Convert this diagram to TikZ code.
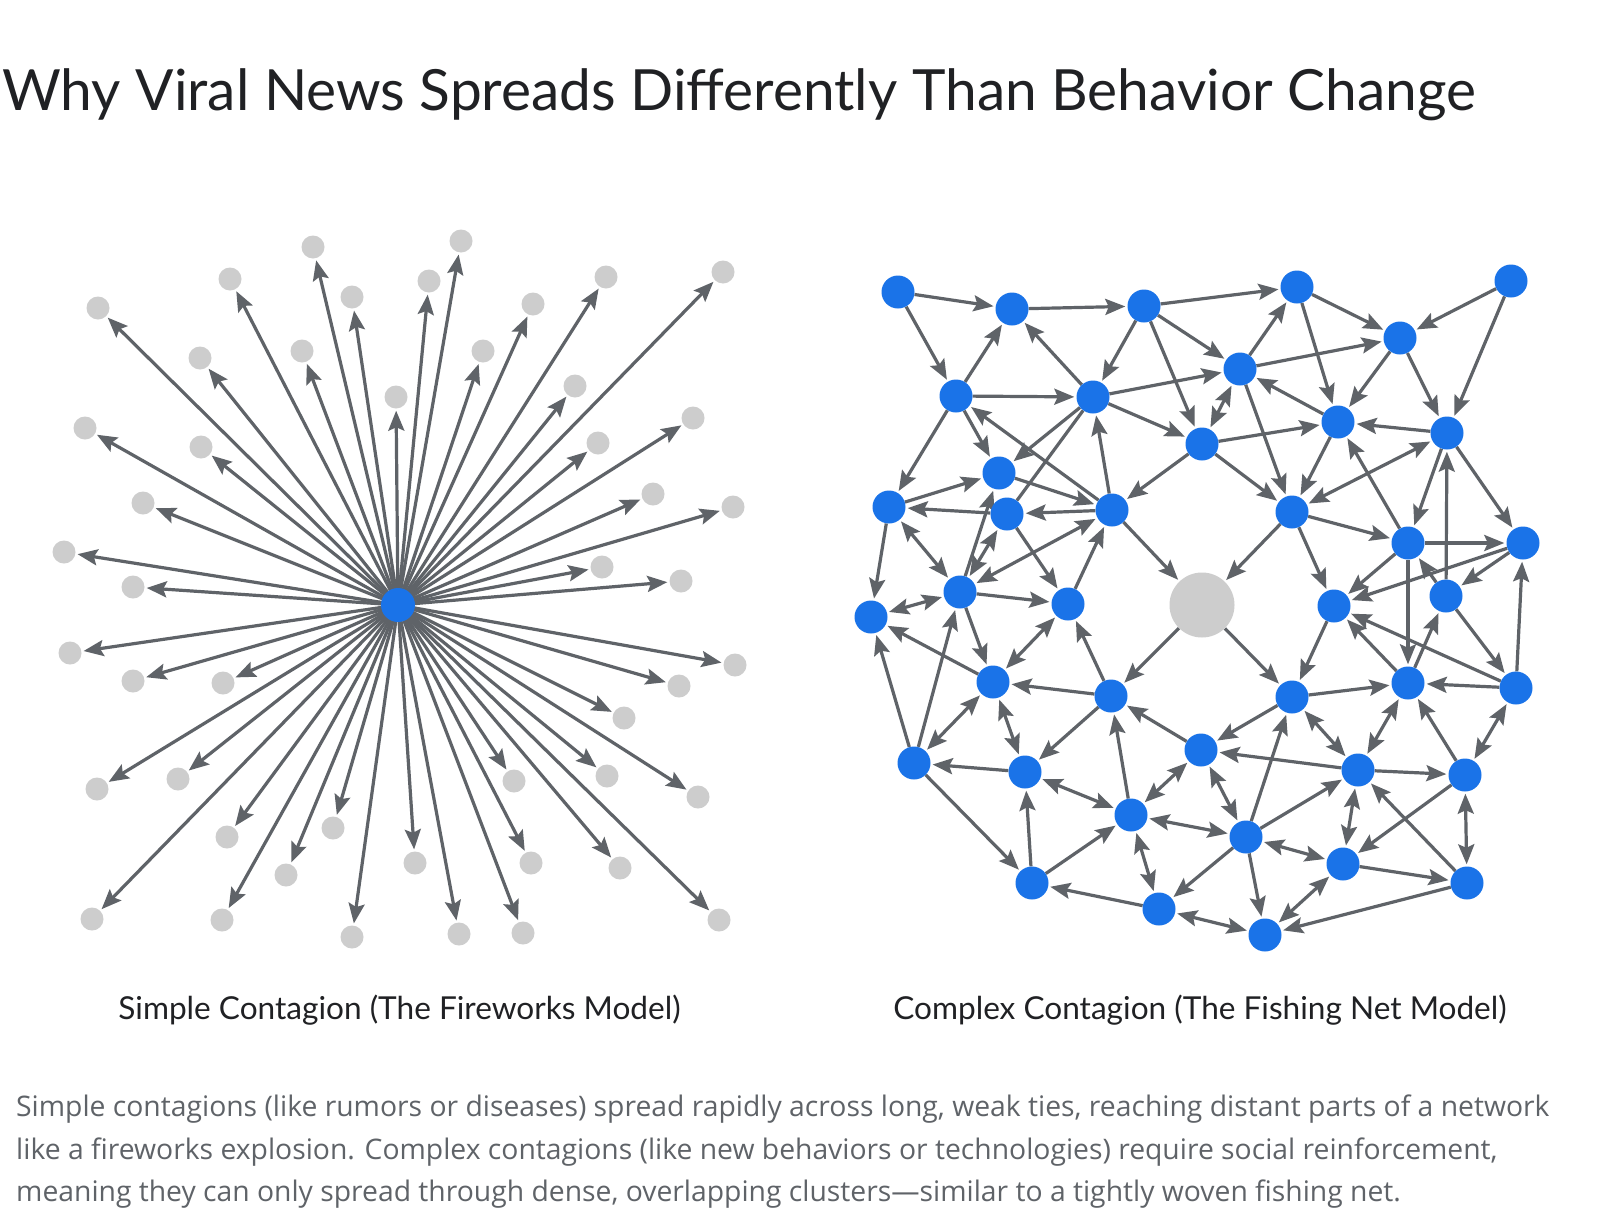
\documentclass[tikz,border=0pt]{standalone}
\usepackage{fontspec}
\setmainfont{Lato}
\newfontfamily\capfont{Open Sans}
\usetikzlibrary{arrows.meta}
\definecolor{nodeblue}{HTML}{1A73E8}
\definecolor{nodegray}{HTML}{CDCDCD}
\definecolor{arrowgray}{HTML}{5F6368}
\definecolor{titlecol}{HTML}{202124}
\definecolor{capcol}{HTML}{5F6368}
\pgfdeclarelayer{back}
\pgfdeclarelayer{edges}
\pgfsetlayers{back,edges,main}
\tikzset{
  bnode/.style={circle, fill=nodeblue, inner sep=0pt, minimum size=33pt},
  cnode/.style={circle, fill=nodeblue, inner sep=0pt, minimum size=34pt},
  gnode/.style={circle, fill=nodegray, inner sep=0pt, minimum size=23pt},
  bignode/.style={circle, fill=nodegray, inner sep=0pt, minimum size=65pt},
  ahead/.tip={Stealth[length=20pt,width=16pt,inset=3.5pt]},
  conn/.style={line width=3.2pt, draw=arrowgray},
  arr/.style={conn, -ahead, shorten >=2pt},
  darr/.style={conn, ahead-ahead, shorten >=2pt, shorten <=2pt},
}
\begin{document}
\begin{tikzpicture}[x=1pt,y=-1pt]
\useasboundingbox (0,0) rectangle (1600,1226);
\begin{pgfonlayer}{back}
\fill[white] (0,0) rectangle (1600,1226);
\end{pgfonlayer}

% ---------- Title ----------
\node[anchor=base west, inner sep=0pt, text=titlecol, font=\fontsize{56.8}{61}\selectfont] (title) at (2,110) {Why Viral News Spreads Differently Than Behavior Change};

% ---------- Left: fireworks ----------
\node[cnode] (c) at (398,605) {};
\foreach \i/\x/\y in {
 1/313/247, 2/461/241, 3/230/279, 4/429/281, 5/98/308, 6/352/297,
 7/606/277, 8/723/272, 9/533/304, 10/200/358, 11/302/351, 12/483/351,
 13/396/397, 14/575/386, 15/85/428, 16/201/447, 17/598/443, 18/693/418,
 19/143/503, 20/653/494, 21/733/507, 22/64/552, 23/133/587, 24/602/567,
 25/681/581, 26/70/653, 27/133/681, 28/223/683, 29/735/665, 30/679/686,
 31/624/718, 32/97/789, 33/178/779, 34/514/781, 35/607/776, 36/698/797,
 37/227/837, 38/333/828, 39/415/863, 40/531/863, 41/620/868, 42/286/875,
 43/92/919, 44/222/920, 45/352/937, 46/459/934, 47/523/933, 48/719/920}
 { \node[gnode] (g\i) at (\x,\y) {}; }
\begin{pgfonlayer}{edges}
\foreach \i in {1,...,48} { \draw[arr] (c.center) -- (g\i); }
\end{pgfonlayer}

% ---------- Right: fishing net ----------
\node[bignode] (GC) at (1202,605) {};
\foreach \n/\x/\y in {
 A/898/292, B/1012/309, C/1144/306, O/1297/287, P/1511/281, Q/1400/338,
 E/956/396, F/1093/397, D/1240/369, R/1338/422, S/1447/433, G/1202/444,
 H/999/473, I/889/507, J/1007/514, K/1112/510, T/1292/512, U/1408/543,
 V/1523/543, L/960/592, M/1068/604, N/871/617, X/1334/606, W/1446/596,
 Y/993/682, Z/1111/696, AI/1292/697, AJ/1408/683, AK/1516/688,
 AA/914/763, AB/1025/772, AC/1201/750, AL/1358/770, AM/1465/775,
 AD/1131/815, AE/1246/837, AN/1343/864, AO/1467/883,
 AF/1032/883, AG/1159/909, AH/1265/935}
 { \node[bnode] (\n) at (\x,\y) {}; }

\begin{pgfonlayer}{edges}
\foreach \a/\b in {
 A/B, A/E, B/C, C/O, E/B, E/F, F/B, C/F, C/G, C/D, F/D, F/G, E/I, E/H,
 K/E, F/H, H/K, J/I, K/J, I/H, K/GC, T/GC, K/F, G/K, I/N, L/M, J/M, M/K, L/H,
 O/Q, P/Q, P/S, D/O, D/Q, O/R, Q/R, Q/S, S/R, R/D, D/T, G/R, G/T, R/T,
 T/U, T/X, S/U, U/R, W/S, S/V, U/V, V/X, U/X, V/W, W/U, U/AJ,
 AJ/W, W/AK, AK/V, AK/X, AJ/X, X/AI, GC/AI, AI/AJ, AK/AJ, AI/AC, AM/AJ,
 AL/AM, AL/AC, AE/AI, AE/AL, AM/AN, AO/AL, AN/AO, AE/AH, AO/AH, AE/AG,
 L/Y, Y/N, AA/L, AA/N, Z/Y, Z/M, GC/Z, Z/AB, AB/AA, AD/Z, AC/Z,
 AA/AF, AF/AB, AF/AD, AG/AF}
 { \draw[arr] (\a) -- (\b); }
\foreach \a/\b in {
 D/G, I/L, L/N, L/K, L/J, S/T, AI/AL, AJ/AL, AK/AM, AC/AE, AL/AN, AM/AO,
 AE/AN, AN/AH, AG/AH, AD/AE, Y/M, AA/Y, Y/AB, AC/AD, AB/AD, AD/AG}
 { \draw[darr] (\a) -- (\b); }
\draw[conn] (F) -- (J);
\end{pgfonlayer}

% ---------- Sub-captions ----------
\node[anchor=base, inner sep=0pt, text=titlecol, font=\fontsize{31.6}{36}\selectfont] (lsub) at (399.5,1019) {Simple Contagion (The Fireworks Model)};
\node[anchor=base, inner sep=0pt, text=titlecol, font=\fontsize{31.6}{36}\selectfont] (rsub) at (1200,1019) {Complex Contagion (The Fishing Net Model)};

% ---------- Caption ----------
\node[anchor=base west, inner sep=0pt, text=capcol, font=\capfont\fontsize{28.3}{30}\selectfont] (cap1) at (16,1116) {Simple contagions (like rumors or diseases) spread rapidly across long, weak ties, reaching distant parts of a network};
\node[anchor=base west, inner sep=0pt, text=capcol, font=\capfont\fontsize{28.3}{30}\selectfont] (cap2) at (16,1159) {like a fireworks explosion. Complex contagions (like new behaviors or technologies) require social reinforcement,};
\node[anchor=base west, inner sep=0pt, text=capcol, font=\capfont\fontsize{28.3}{30}\selectfont] (cap3) at (16,1201) {meaning they can only spread through dense, overlapping clusters—similar to a tightly woven fishing net.};
\end{tikzpicture}
\end{document}
